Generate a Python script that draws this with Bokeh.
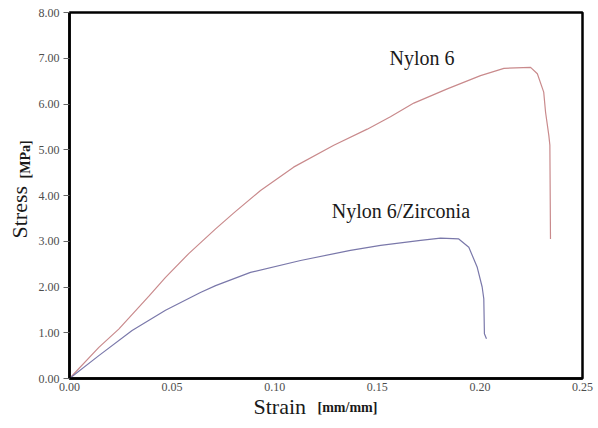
import math
from bokeh.plotting import figure
from bokeh.models import Range1d, Label, FixedTicker, CustomJSTickFormatter, Title
from bokeh.embed import file_html
from bokeh.resources import INLINE

# Nylon 6 curve (strain mm/mm, stress MPa)
nylon6_strain = [0.0, 0.0143, 0.0240, 0.0387, 0.0468, 0.0581, 0.0712, 0.0801, 0.0931, 0.1092,
                 0.1288, 0.1451, 0.1564, 0.1678, 0.1841, 0.2003, 0.2117, 0.2247, 0.2280,
                 0.2311, 0.2320, 0.2336, 0.2341, 0.2344]
nylon6_stress = [0.0, 0.68, 1.08, 1.80, 2.21, 2.73, 3.27, 3.62, 4.11, 4.62,
                 5.10, 5.45, 5.72, 6.02, 6.33, 6.62, 6.78, 6.80, 6.66,
                 6.26, 5.82, 5.31, 5.10, 3.05]

# Nylon 6/Zirconia curve
nz_strain = [0.0, 0.0143, 0.0305, 0.0468, 0.0638, 0.0712, 0.0882, 0.1126, 0.1369, 0.1516,
             0.1711, 0.1808, 0.1897, 0.1946, 0.1987, 0.2011, 0.2019, 0.2022, 0.2032]
nz_stress = [0.0, 0.50, 1.05, 1.49, 1.88, 2.03, 2.32, 2.58, 2.80, 2.91,
             3.02, 3.07, 3.05, 2.87, 2.43, 2.00, 1.74, 0.98, 0.87]

x_ticks = [0.0, 0.05, 0.10, 0.15, 0.20, 0.25]
y_ticks = [0, 1, 2, 3, 4, 5, 6, 7, 8]

serif = "Liberation Serif"

p = figure(width=598, height=428, output_backend="svg", toolbar_location=None,
           x_range=Range1d(0, 0.25), y_range=Range1d(0, 8),
           min_border_left=69, min_border_right=16, min_border_top=12, min_border_bottom=50)
p.background_fill_color = "white"
p.border_fill_color = "white"
p.grid.visible = False
p.outline_line_color = "black"
p.outline_line_width = 2.5

for ax in (p.xaxis[0], p.yaxis[0]):
    ax.axis_line_color = "black"
    ax.axis_line_width = 2.5
    ax.minor_tick_line_color = None
    ax.major_label_text_font = serif
    ax.major_label_text_font_size = "12px"
    ax.major_label_text_color = "#4d4d4d"
    ax.formatter = CustomJSTickFormatter(code="return tick.toFixed(2);")

p.xaxis[0].ticker = FixedTicker(ticks=x_ticks)
p.yaxis[0].ticker = FixedTicker(ticks=y_ticks)
p.xaxis[0].major_tick_out = 0
p.xaxis[0].major_tick_in = 0
p.xaxis[0].major_label_standoff = 4
p.yaxis[0].major_tick_out = 6
p.yaxis[0].major_tick_in = 0
p.yaxis[0].major_tick_line_color = "#666666"
p.yaxis[0].major_label_standoff = 4

p.line(nylon6_strain, nylon6_stress, line_color="#c98a8c", line_width=1.2)
p.line(nz_strain, nz_stress, line_color="#7a78aa", line_width=1.2)

p.add_layout(Label(x=0.156, y=6.77, text="Nylon 6", text_font=serif,
                   text_font_size="20px", text_color="#1a1a1a"))
p.add_layout(Label(x=0.1278, y=3.42, text="Nylon 6/Zirconia", text_font=serif,
                   text_font_size="20px", text_color="#1a1a1a"))

# axis titles as side-panel titles
p.add_layout(Title(text="Stress", align="left", offset=140, standoff=8, text_font=serif,
                   text_font_size="22px", text_font_style="normal", text_color="#1a1a1a"), "left")
p.add_layout(Title(text="[MPa]", align="left", offset=200, standoff=-64, text_font=serif,
                   text_font_size="14px", text_font_style="bold", text_color="#1a1a1a"), "left")
p.add_layout(Title(text="Strain", align="left", offset=184, standoff=0, vertical_align="top",
                   text_font=serif, text_font_size="22px", text_font_style="normal",
                   text_color="#1a1a1a"), "below")
p.add_layout(Title(text="[mm/mm]", align="left", offset=248, standoff=-42, vertical_align="top",
                   text_font=serif, text_font_size="14px", text_font_style="bold",
                   text_color="#1a1a1a"), "below")

open("out.html", "w").write(file_html(p, INLINE))
